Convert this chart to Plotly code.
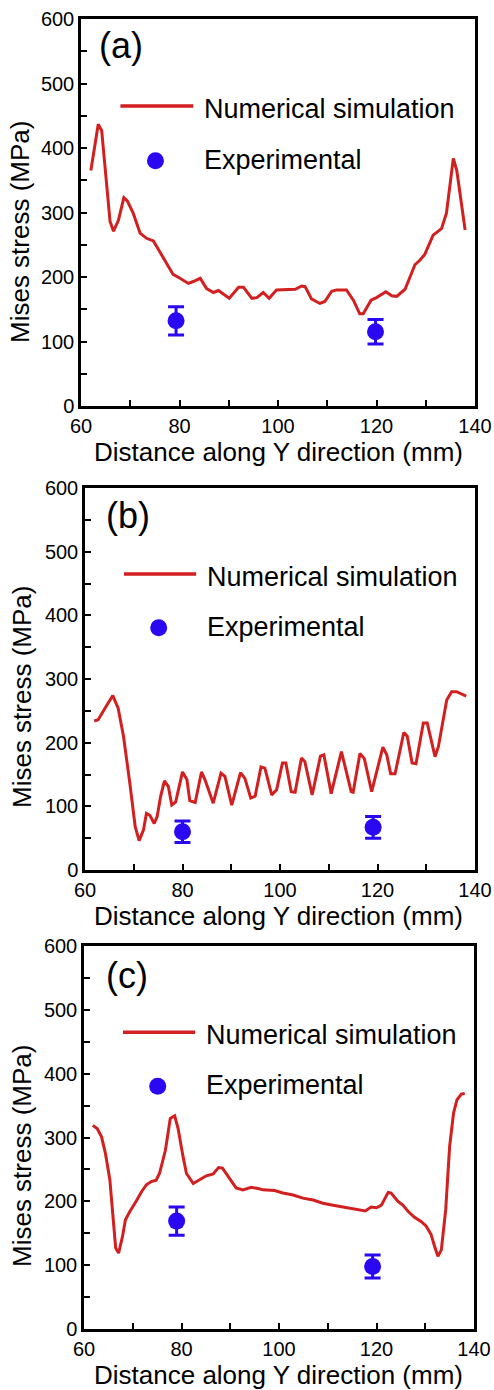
import plotly.graph_objects as go

W, H = 494, 1390
FONT = "Liberation Sans, Arial, sans-serif"
RED = "#d21f1f"
BLUE = "#2a08f2"

# ---------------- data ----------------
a_x = [62.0, 63.5, 64.2, 65.9, 66.6, 67.6, 68.7, 69.4, 70.6, 72.0, 73.3, 74.7, 76.0, 77.4, 78.7, 80.1,
       81.8, 82.8, 84.2, 85.5, 86.9, 87.9, 88.9, 90.1, 92.0, 93.0, 94.7, 95.7, 97.0, 98.2, 99.7, 101.4,
       103.5, 104.8, 105.5, 106.8, 108.5, 109.5, 110.9, 111.9, 113.9, 115.3, 116.6, 117.3, 118.9, 120.0,
       121.9, 123.1, 124.1, 125.8, 127.8, 128.8, 129.8, 131.5, 133.2, 134.2, 135.6, 136.3, 138.0]
a_y = [365, 437, 427, 286, 271, 288, 323, 318, 299, 268, 260, 256, 239, 220, 204, 198,
       190, 193, 198, 182, 176, 179, 174, 167, 184, 184, 167, 168, 176, 167, 180, 180,
       181, 186, 185, 166, 159, 162, 178, 180, 180, 164, 143, 143, 164, 168,
       177, 171, 170, 181, 219, 226, 235, 265, 275, 299, 384, 365, 273]
a_exp_x = [79.3, 119.8]
a_exp_y = [132, 115]
a_exp_err = [22, 19]

b_x = [61.9, 62.7, 64.1, 65.7, 66.8, 67.9, 69.2, 70.3, 71.1, 72.0, 72.6, 73.3, 74.2, 74.8, 75.5, 76.3,
       77.1, 77.8, 78.6, 80.0, 80.9, 81.5, 82.6, 83.9, 84.6, 86.3, 87.9, 88.7, 90.1, 91.9, 92.8, 94.0,
       94.9, 96.1, 96.9, 98.3, 99.3, 100.5, 101.2, 102.3, 103.1, 104.4, 105.1, 106.6, 108.3, 109.0,
       110.5, 112.6, 114.6, 115.0, 116.4, 117.3, 118.8, 119.8, 121.1, 121.9, 122.7, 123.6, 125.4,
       126.1, 127.1, 127.9, 129.4, 130.2, 131.8, 132.5, 134.2, 135.2, 136.2, 138.2]
b_y = [234, 236, 254, 274, 254, 210, 136, 68, 46, 63, 89, 86, 73, 84, 115, 140,
       131, 102, 107, 154, 142, 109, 106, 154, 142, 105, 152, 147, 102, 153, 144, 113,
       116, 162, 160, 118, 126, 168, 168, 123, 122, 176, 170, 118, 179, 181,
       120, 186, 123, 122, 183, 175, 123, 154, 193, 181, 151, 151, 216,
       210, 168, 167, 231, 231, 178, 194, 267, 280, 280, 273]
b_exp_x = [80.0, 119.1]
b_exp_y = [60, 67]
b_exp_err = [17, 17]

c_x = [61.8, 62.7, 63.6, 64.4, 65.3, 65.9, 66.5, 67.1, 67.9, 68.5, 69.4, 70.7, 71.8, 72.8, 73.8, 74.8,
       75.5, 76.7, 77.7, 78.6, 79.3, 80.2, 81.0, 82.4, 83.7, 85.1, 86.5, 87.6, 88.4, 89.9, 91.2, 92.6,
       94.3, 95.7, 96.7, 99.1, 100.8, 102.9, 104.9, 107.0, 109.0, 111.1, 113.1, 115.2, 116.5, 117.7,
       118.9, 120.0, 121.0, 122.4, 123.0, 124.4, 125.4, 126.5, 127.8, 129.2, 130.2, 131.2, 131.9,
       132.6, 133.3, 134.2, 135.0, 135.8, 136.5, 137.4, 138.1]
c_y = [319, 314, 301, 275, 234, 176, 127, 119, 145, 171, 184, 200, 215, 226, 231, 233,
       244, 280, 330, 334, 314, 275, 244, 228, 234, 240, 243, 253, 252, 236, 221, 218,
       222, 220, 218, 217, 213, 210, 205, 202, 197, 194, 191, 189, 186, 185,
       191, 190, 194, 214, 213, 200, 194, 184, 175, 168, 161, 148, 130,
       114, 124, 187, 286, 338, 359, 368, 369]
c_exp_x = [79.0, 119.2]
c_exp_y = [169, 98]
c_exp_err = [22, 18]

panel_labels = ["(a)", "(b)", "(c)"]
legend_labels = ["Numerical simulation", "Experimental"]
x_title = "Distance along Y direction (mm)"
y_title = "Mises stress (MPa)"

# ---------------- layout helpers ----------------
def px(x):
    return x / W

def py(y):
    return 1 - y / H

# panel boxes in pixels: left, right, top, bottom
boxes = [(81, 475, 19, 406), (85, 475, 488, 870), (84, 474, 946, 1329)]
label_pos = [(0.041, 0.9315), (0.049, 0.929), (0.051, 0.924)]
ytitle_pos = [(20, 232), (22, 697), (22, 1156)]

series = [(a_x, a_y, a_exp_x, a_exp_y, a_exp_err),
          (b_x, b_y, b_exp_x, b_exp_y, b_exp_err),
          (c_x, c_y, c_exp_x, c_exp_y, c_exp_err)]

fig = go.Figure()
shapes = []
annotations = []

for i, ((sx, sy, ex, ey, ee), (l, r, t, b)) in enumerate(zip(series, boxes)):
    n = "" if i == 0 else str(i + 1)
    xa, ya = "x" + n, "y" + n
    fig.add_trace(go.Scatter(x=sx, y=sy, mode="lines", line=dict(color=RED, width=3),
                             xaxis=xa, yaxis=ya, showlegend=False))
    fig.add_trace(go.Scatter(x=ex, y=ey, mode="markers",
                             marker=dict(color=BLUE, size=17),
                             error_y=dict(type="data", array=ee, color=BLUE, thickness=3, width=8),
                             xaxis=xa, yaxis=ya, showlegend=False))
    axcommon = dict(ticks="inside", ticklen=6, tickwidth=2, tickcolor="black",
                    showline=True, linewidth=2.5, linecolor="black", mirror=True,
                    showgrid=False, zeroline=False, automargin=False,
                    tickfont=dict(size=20, color="black", family=FONT))
    fig.layout["xaxis" + n] = dict(domain=[px(l), px(r)], range=[60, 140], tick0=60, dtick=20,
                                   anchor=ya, minor=dict(dtick=10, ticks="inside", ticklen=6,
                                                         tickwidth=2, tickcolor="black"),
                                   **axcommon)
    fig.layout["yaxis" + n] = dict(domain=[py(b), py(t)], range=[0, 600], tick0=0, dtick=100,
                                   anchor=xa, minor=dict(dtick=50, ticks="inside", ticklen=6,
                                                         tickwidth=2, tickcolor="black"),
                                   **axcommon)
    xd, yd = xa + " domain", ya + " domain"
    # legend: line sample
    shapes.append(dict(type="line", xref=xd, yref=yd, x0=0.1, x1=0.285, y0=0.775, y1=0.775,
                       line=dict(color=RED, width=3.5)))
    # legend: marker sample
    cx, cy = 0.189, 0.634
    rx, ry = 8.5 / (r - l), 8.5 / (b - t)
    shapes.append(dict(type="circle", xref=xd, yref=yd, x0=cx - rx, x1=cx + rx,
                       y0=cy - ry, y1=cy + ry, fillcolor=BLUE, line=dict(width=0)))
    annotations.append(dict(xref=xd, yref=yd, x=0.307, y=0.768, xanchor="left", yanchor="middle",
                            text=legend_labels[0], showarrow=False,
                            font=dict(size=27, color="black", family=FONT)))
    annotations.append(dict(xref=xd, yref=yd, x=0.307, y=0.636, xanchor="left", yanchor="middle",
                            text=legend_labels[1], showarrow=False,
                            font=dict(size=27, color="black", family=FONT)))
    lx, ly = label_pos[i]
    annotations.append(dict(xref=xd, yref=yd, x=lx, y=ly, xanchor="left", yanchor="middle",
                            text=panel_labels[i], showarrow=False,
                            font=dict(size=36, color="black", family=FONT)))
    tx, ty = ytitle_pos[i]
    annotations.append(dict(xref="paper", yref="paper", x=px(tx), y=py(ty), xanchor="center",
                            yanchor="middle", textangle=-90, text=y_title, showarrow=False,
                            font=dict(size=26, color="black", family=FONT)))
    annotations.append(dict(xref="paper", yref="paper", x=px(278), y=py(b + 46), xanchor="center",
                            yanchor="middle", text=x_title, showarrow=False,
                            font=dict(size=26, color="black", family=FONT)))

fig.update_layout(width=W, height=H, margin=dict(l=0, r=0, t=0, b=0),
                  paper_bgcolor="white", plot_bgcolor="white",
                  shapes=shapes, annotations=annotations, showlegend=False,
                  font=dict(family=FONT, color="black"))

fig.write_html("out.html")
